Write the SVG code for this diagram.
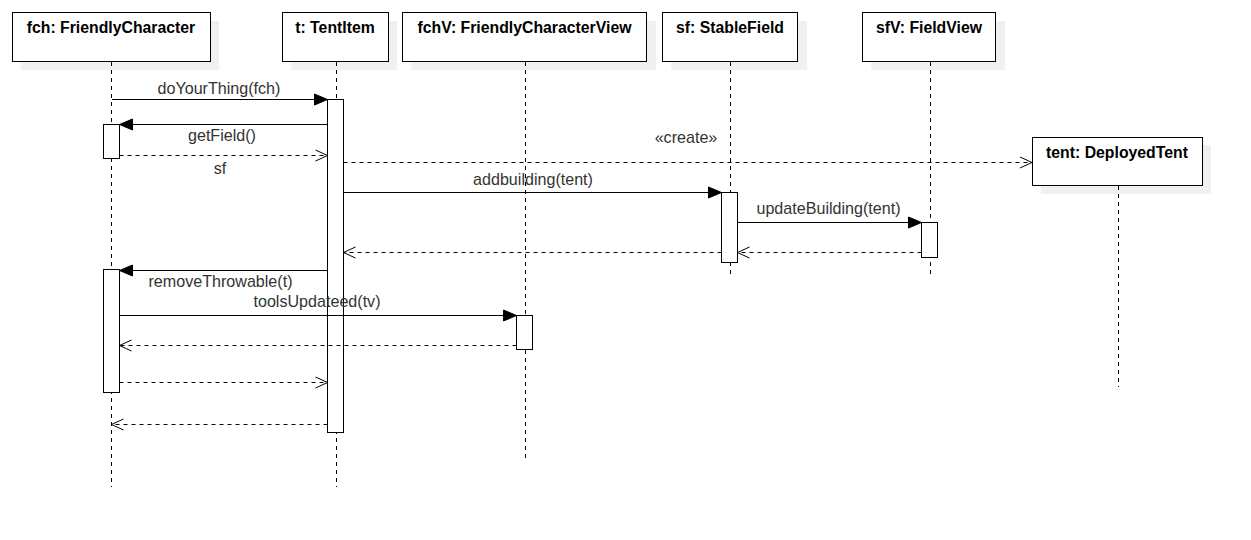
<svg xmlns="http://www.w3.org/2000/svg" width="1251" height="540" viewBox="0 0 1251 540">
<style>
.shadow{fill:#f0f0f0;stroke:none}
.box{fill:#fff;stroke:#000;stroke-width:1}
.title{font-family:"Liberation Sans",Arial,sans-serif;font-size:15.8px;font-weight:bold;fill:#000;text-anchor:middle}
.life{stroke:#000;stroke-width:1;stroke-dasharray:4 4;fill:none}
.act{fill:#fff;stroke:#000;stroke-width:1}
.msg{stroke:#000;stroke-width:1;fill:none;marker-end:url(#filled)}
.ret{stroke:#000;stroke-width:1;fill:none;stroke-dasharray:4 4;marker-end:url(#open)}
.lbl{font-family:"Liberation Sans",Arial,sans-serif;font-size:16.1px;fill:#333;text-anchor:middle}
</style>
<defs>
<marker id="filled" markerUnits="userSpaceOnUse" markerWidth="14" markerHeight="12" refX="13" refY="5.5" orient="auto" overflow="visible">
<path d="M0,0 L13,5.5 L0,11 Z" fill="#000" stroke="#000" stroke-width="1"/>
</marker>
<marker id="open" markerUnits="userSpaceOnUse" markerWidth="14" markerHeight="12" refX="12" refY="5.5" orient="auto" overflow="visible">
<path d="M0,0 L12,5.5 L0,11" fill="none" stroke="#000" stroke-width="1"/>
</marker>
</defs>
<rect width="1251" height="540" fill="#fff"/>

<g id="fch">
<rect class="shadow" x="21" y="21" width="198" height="49"/>
<rect class="box" x="12.5" y="12.5" width="198" height="49"/>
<text class="title" x="111" y="33">fch: FriendlyCharacter</text>
<line class="life" x1="111.5" y1="62" x2="111.5" y2="487"/>
<rect class="act" x="103.5" y="124.5" width="16" height="34"/>
<rect class="act" x="103.5" y="269.5" width="16" height="123"/>
</g>

<g id="t">
<rect class="shadow" x="291" y="21" width="106" height="49"/>
<rect class="box" x="282.5" y="12.5" width="106" height="49"/>
<text class="title" x="335" y="33">t: TentItem</text>
<line class="life" x1="336.5" y1="62" x2="336.5" y2="487"/>
<rect class="act" x="327.5" y="99.5" width="16" height="333"/>
</g>

<g id="fchV">
<rect class="shadow" x="411" y="21" width="245" height="49"/>
<rect class="box" x="402.5" y="12.5" width="244" height="49"/>
<text class="title" x="524.5" y="33">fchV: FriendlyCharacterView</text>
<line class="life" x1="525.5" y1="62" x2="525.5" y2="462"/>
<rect class="act" x="516.5" y="315.5" width="16" height="34"/>
</g>

<g id="sf">
<rect class="shadow" x="671" y="21" width="136" height="49"/>
<rect class="box" x="662.5" y="12.5" width="135" height="49"/>
<text class="title" x="730" y="33">sf: StableField</text>
<line class="life" x1="730.5" y1="62" x2="730.5" y2="276"/>
<rect class="act" x="721.5" y="192.5" width="16" height="70"/>
</g>

<g id="sfV">
<rect class="shadow" x="871" y="21" width="134" height="49"/>
<rect class="box" x="862.5" y="12.5" width="133" height="49"/>
<text class="title" x="929" y="33">sfV: FieldView</text>
<line class="life" x1="930.5" y1="62" x2="930.5" y2="274"/>
<rect class="act" x="921.5" y="222.5" width="16" height="35"/>
</g>

<g id="tent">
<rect class="shadow" x="1041" y="145" width="170" height="49"/>
<rect class="box" x="1032.5" y="137.5" width="170" height="48"/>
<text class="title" x="1117" y="158">tent: DeployedTent</text>
<line class="life" x1="1118.5" y1="186" x2="1118.5" y2="387"/>
</g>

<g id="connectors">
<line class="msg" x1="112" y1="99.5" x2="327.5" y2="99.5"/>
<text class="lbl" x="219" y="94">doYourThing(fch)</text>

<line class="msg" x1="327.5" y1="124.5" x2="119.5" y2="124.5"/>
<text class="lbl" x="222" y="141">getField()</text>

<line class="ret" x1="119.5" y1="155.5" x2="327.5" y2="155.5"/>
<text class="lbl" x="220" y="174">sf</text>

<line class="ret" x1="343.5" y1="162.5" x2="1032" y2="162.5"/>
<text class="lbl" x="686" y="143">«create»</text>

<line class="msg" x1="343.5" y1="192.5" x2="721.5" y2="192.5"/>
<text class="lbl" x="533" y="185">addbuilding(tent)</text>

<line class="msg" x1="737.5" y1="222.5" x2="921.5" y2="222.5"/>
<text class="lbl" x="828.5" y="214">updateBuilding(tent)</text>

<line class="ret" x1="921.5" y1="252.5" x2="737.5" y2="252.5"/>
<line class="ret" x1="721.5" y1="252.5" x2="343.5" y2="252.5"/>

<line class="msg" x1="327.5" y1="270.5" x2="119.5" y2="270.5"/>
<text class="lbl" x="220.5" y="287">removeThrowable(t)</text>

<line class="msg" x1="119.5" y1="315.5" x2="516.5" y2="315.5"/>
<text class="lbl" x="317" y="307">toolsUpdateed(tv)</text>

<line class="ret" x1="516.5" y1="345.5" x2="119.5" y2="345.5"/>
<line class="ret" x1="119.5" y1="382.5" x2="327.5" y2="382.5"/>
<line class="ret" x1="327.5" y1="424.5" x2="111.5" y2="424.5"/>
</g>
</svg>
